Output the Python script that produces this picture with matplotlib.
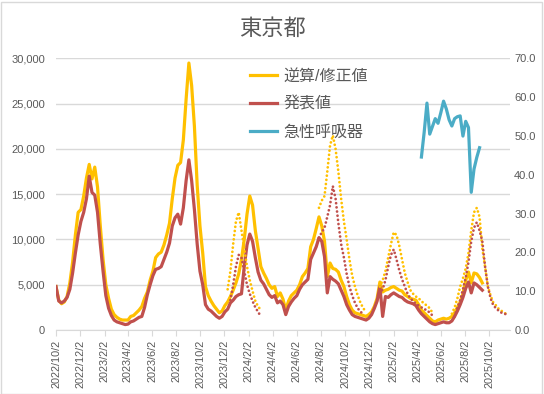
import pandas as pd
import matplotlib
matplotlib.use("Agg")
import matplotlib.pyplot as plt
from matplotlib.patches import Rectangle

plt.rcParams['font.family'] = ['Liberation Sans', 'Noto Sans CJK JP', 'DejaVu Sans']

# weekly data starting 2022-10-02
start = "2022-10-02"
estimated = [4800, 3300, 2900, 3100, 3700, 5200, 7500, 10500, 13000, 13300,
             14800, 16800, 18300, 16700, 18000, 15800, 11500, 7800, 5000, 3500,
             2300, 1700, 1400, 1200, 1100, 1100, 1100, 1500, 1600, 1900,
             2200, 2600, 3500, 4200, 5500, 6500, 8000, 8400, 8600, 9400,
             10500, 11800, 14500, 16800, 18200, 18500, 21000, 25500, 29500, 27000,
             22500, 16000, 11500, 8500, 4800, 3800, 3200, 2700, 2300, 1900,
             2100, 2700, 3100, 3700, 4400, 5200, 6200, 7800, 10000, 12800,
             14800, 13800, 11000, 9000, 7000, 6300, 5700, 5000, 4600, 4800,
             3700, 4100, 3400, 2200, 3200, 3800, 4100, 4400, 5000, 5900,
             6300, 6800, 9200, 10000, 11200, 12500, 11500, 9800, 5900, 7400,
             6800, 6700, 6400, 5500, 4800, 3700, 2800, 2200, 1900, 1800,
             1700, 1600, 1500, 1700, 2000, 2600, 3500, 5300, 4200, 4400,
             4500, 4700, 4800, 4600, 4400, 4300, 3900, 3700, 3500, 3400,
             3300, 2800, 2200, 1900, 1600, 1300, 1000, 900, 1100, 1200,
             1300, 1200, 1300, 1500, 1900, 2500, 3100, 4000, 5500, 6400,
             5200, 6300, 6200, 5800, 5200]
reported = [4800, 3200, 3000, 3200, 3600, 4500, 6300, 8500, 10500, 12000,
            13000, 14500, 17000, 15200, 14900, 13000, 9500, 6500, 3800, 2400,
            1600, 1100, 900, 800, 700, 600, 650, 900, 1000, 1200,
            1400, 1500, 2500, 3900, 5000, 6000, 6700, 6800, 7000, 7800,
            8600, 9600, 11500, 12400, 12800, 11700, 13500, 16500, 18800, 16500,
            13300, 9500, 6500, 5000, 2800, 2300, 2100, 1800, 1500, 1300,
            1500, 2000, 2300, 3000, 3300, 3700, 3900, 4000, 7000, 9400,
            10600, 9800, 8000, 6400, 5500, 5100, 4500, 3900, 3600, 3800,
            3000, 3200, 2800, 1700, 2600, 3100, 3500, 3800, 4500, 5000,
            5300, 5600, 7800, 8500, 9200, 10200, 9800, 8100, 4100, 5900,
            5600, 5400, 5100, 4400, 3700, 2800, 2200, 1700, 1500, 1400,
            1300, 1200, 1100, 1300, 1700, 2400, 3200, 4800, 1500, 3700,
            3600, 3900, 4100, 3900, 3700, 3600, 3300, 3100, 3000, 2900,
            2700, 2200, 1800, 1500, 1200, 900, 700, 600, 700, 800,
            900, 800, 800, 1000, 1500, 2100, 2800, 3600, 4600, 5300,
            4100, 5200, 5000, 4700, 4400]

# dotted overlays (start date, weekly values)
est_dot1_start = "2023-12-10"
est_dot1 = [4500, 6500, 9500, 12000, 13000, 11000, 9000, 7000, 5500, 4300, 3200, 2600, 2200]
rep_dot1_start = "2023-12-17"
rep_dot1 = [3300, 5000, 7000, 8300, 8000, 6500, 5000, 4000, 3200, 2500, 2000, 1500]
est_dot2_start = "2024-07-28"
est_dot2 = [13500, 14300, 14800, 17500, 20400, 21500, 20000, 17500, 14500, 12000,
            10000, 7800, 6000, 4800, 3800, 3000, 2400, 2000]
rep_dot2_start = "2024-07-28"
rep_dot2 = [10200, 10800, 11300, 12500, 13800, 15900, 14500, 11800, 9500, 8000,
            6200, 4800, 3800, 3000, 2400, 2000, 1800]
est_dot3_start = "2024-12-29"
est_dot3 = [4800, 5500, 6500, 8000, 9500, 10800, 10500, 9300, 7800, 6300,
            5300, 4400, 4000, 3700, 3500, 3200, 2900, 2700, 2400, 1900]
rep_dot3_start = "2024-12-29"
rep_dot3 = [4000, 4500, 5500, 7000, 8300, 8900, 7800, 6600, 5600, 4800,
            4000, 3500, 3200, 2900, 2700, 2500, 2300, 2200, 1900, 1600]
est_dot4_start = "2025-06-29"
est_dot4 = [1800, 2500, 3500, 4800, 5700, 6800, 8500, 11000, 13000, 13500,
            12500, 9000, 7000, 4800, 3800, 3000, 2700, 2300, 2100, 1900, 1700]
rep_dot4_start = "2025-07-06"
rep_dot4 = [1500, 2500, 3300, 4500, 5800, 7500, 9800, 11300, 11900, 11000,
            9800, 7000, 4800, 3500, 2700, 2400, 2100, 1900, 1800, 1700]

# acute respiratory infection (right axis)
ari_start = "2025-04-13"
ari = [44.6, 51.0, 58.5, 50.5, 52.5, 54.5, 53.3, 56.0, 59.0, 57.0, 54.2,
       52.6, 54.5, 55.0, 55.2, 50.0, 53.8, 52.2, 35.5, 41.5, 44.5, 47.0]

x_end = "2025-11-23"

YEL = "#FFC000"
RED = "#C0504D"
BLU = "#4BACC6"
TXT = "#595959"
GRID = "#D9D9D9"


def weeks(s, n):
    return pd.date_range(s, periods=n, freq="7D")


fig = plt.figure(figsize=(5.44, 3.94), dpi=100)
ax = fig.add_axes([56 / 544, 1 - 330 / 394, 454 / 544, (330 - 58.5) / 394])
ax2 = ax.twinx()

l1, = ax.plot(weeks(start, len(estimated)), estimated, color=YEL, lw=2.3, zorder=3)
l2, = ax.plot(weeks(start, len(reported)), reported, color=RED, lw=2.3, zorder=4)

dot = dict(lw=2.0, linestyle=(0, (0.01, 1.5)), dash_capstyle="round", zorder=5)
for s, v in [(est_dot1_start, est_dot1), (est_dot2_start, est_dot2),
             (est_dot3_start, est_dot3), (est_dot4_start, est_dot4)]:
    ax.plot(weeks(s, len(v)), v, color=YEL, **dot)
for s, v in [(rep_dot1_start, rep_dot1), (rep_dot2_start, rep_dot2),
             (rep_dot3_start, rep_dot3), (rep_dot4_start, rep_dot4)]:
    ax.plot(weeks(s, len(v)), v, color=RED, **dot)

l3, = ax2.plot(weeks(ari_start, len(ari)), ari, color=BLU, lw=2.3)

ax.set_xlim(pd.Timestamp(start), pd.Timestamp(x_end))
ax.set_ylim(0, 30000)
ax2.set_ylim(0, 70)

ax.set_yticks(range(0, 30001, 5000))
ax.set_yticklabels([f"{v:,}" for v in range(0, 30001, 5000)])
ax2.set_yticks(range(0, 71, 10))
ax2.set_yticklabels([f"{v:.1f}" for v in range(0, 71, 10)])

tick_dates = [pd.Timestamp(2022 + (9 + 2 * k) // 12, (9 + 2 * k) % 12 + 1, 2) for k in range(19)]
ax.set_xticks(tick_dates)
ax.set_xticklabels([f"{d.year}/{d.month}/{d.day}" for d in tick_dates], rotation=90)

ax.grid(axis="y", color=GRID, lw=1)
ax.set_axisbelow(True)
for a in (ax, ax2):
    for sp in a.spines.values():
        sp.set_visible(False)
ax.spines["bottom"].set_visible(True)
ax.spines["bottom"].set_color(GRID)
ax.tick_params(axis="x", length=4, color=GRID, labelsize=7.8, labelcolor=TXT, pad=3)
ax.tick_params(axis="y", length=0, labelsize=8, labelcolor=TXT, pad=8)
ax2.tick_params(axis="y", length=0, labelsize=8, labelcolor=TXT, pad=3)

fig.text(0.5, 1 - 29 / 394, "東京都", ha="center", va="center", fontsize=16, color=TXT)

ax2.legend([l1, l2, l3], ["逆算/修正値", "発表値", "急性呼吸器"],
           loc="upper left", bbox_to_anchor=(250 / 544, 1 - 69 / 394),
           bbox_transform=fig.transFigure, frameon=False, fontsize=11.5,
           handlelength=1.7, handletextpad=0.4, labelspacing=0.8,
           borderpad=0, borderaxespad=0, labelcolor=TXT)

fig.patches.append(Rectangle((0.5 / 544, 0.5 / 394), 541 / 544, 392 / 394,
                             transform=fig.transFigure, fill=False,
                             edgecolor=GRID, lw=1))

fig.savefig("out.png", dpi=100)
